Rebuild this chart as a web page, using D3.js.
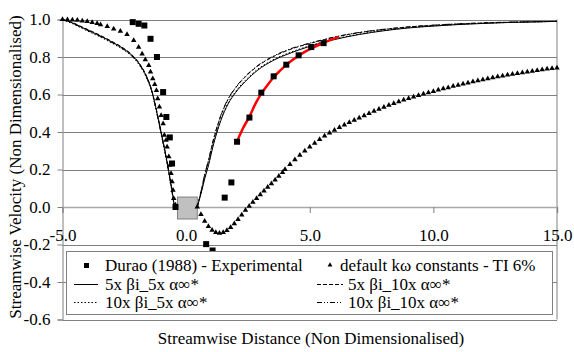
<!DOCTYPE html>
<html><head><meta charset="utf-8">
<script src="https://cdn.jsdelivr.net/npm/d3@7"></script>
<style>
html,body{margin:0;padding:0;background:#fff;}
svg{display:block;}
svg text{font-family:"Liberation Serif","Times New Roman","DejaVu Serif",serif !important;}
</style></head>
<body><svg id="c" width="574" height="352"></svg>
<script>
// ---- data ----
const xTicks = [-5, 0, 5, 10, 15];
const xTickLabels = ["-5.0", "0.0", "5.0", "10.0", "15.0"];
const yTicks = [-0.6, -0.4, -0.2, 0.0, 0.2, 0.4, 0.6, 0.8, 1.0];
const yTickLabels = ["-0.6", "-0.4", "-0.2", "0.0", "0.2", "0.4", "0.6", "0.8", "1.0"];

const seriesNames = ["Durao (1988) - Experimental", "default k\u03c9 constants - TI 6%",
  "5x \u03b2i_5x \u03b1\u221e*", "5x \u03b2i_10x \u03b1\u221e*",
  "10x \u03b2i_5x \u03b1\u221e*", "10x \u03b2i_10x \u03b1\u221e*"];

// Durao (1988) experimental points
const duraoX = [-2.16, -1.92, -1.69, -1.44, -1.18, -0.93, -0.80, -0.66, -0.57, -0.43,
  0.81, 1.07, 1.56, 1.83, 2.06, 2.56, 3.04, 3.54, 4.05, 4.55, 5.06, 5.56];
const duraoY = [0.986, 0.977, 0.968, 0.897, 0.800, 0.613, 0.480, 0.371, 0.232, 0.000,
  -0.198, -0.232, 0.050, 0.131, 0.348, 0.477, 0.610, 0.697, 0.759, 0.809, 0.853, 0.874];

// red fit through downstream experimental data
const fitX = [2.06, 2.30, 2.56, 2.80, 3.04, 3.30, 3.54, 3.80, 4.05, 4.30, 4.55, 5.06, 5.56, 6.17];
const fitY = [0.350, 0.420, 0.482, 0.550, 0.605, 0.652, 0.692, 0.727, 0.758, 0.784, 0.807, 0.846, 0.876, 0.907];

// default k-omega constants (triangles)
const kwX = [-5.0, -4.8, -4.6, -4.4, -4.2, -4.0, -3.8, -3.6, -3.46, -3.19, -2.93, -2.66, -2.39, -2.12,
  -1.92, -1.78, -1.65, -1.51, -1.44, -1.35, -1.27, -1.20, -1.15, -1.08, -1.01, -0.93, -0.88, -0.81,
  -0.77, -0.70, -0.66, -0.61, -0.57, -0.53, -0.50, -0.43,
  0.45, 0.60, 0.75, 0.90, 1.05, 1.20, 1.35, 1.50, 1.65, 1.80, 1.95, 2.10, 2.25, 2.40, 2.55, 2.70,
  2.85, 3.00, 3.15, 3.30, 3.45, 3.60, 3.75, 3.90,
  4.0, 4.2, 4.4, 4.6, 4.8, 5.0, 5.2, 5.4, 5.6, 5.8, 6.0, 6.2, 6.4, 6.6, 6.8, 7.0, 7.2, 7.4, 7.6, 7.8,
  8.0, 8.2, 8.4, 8.6, 8.8, 9.0, 9.2, 9.4, 9.6, 9.8, 10.0, 10.2, 10.4, 10.6, 10.8, 11.0, 11.2, 11.4,
  11.6, 11.8, 12.0, 12.2, 12.4, 12.6, 12.8, 13.0, 13.2, 13.4, 13.6, 13.8, 14.0, 14.2, 14.4, 14.6, 14.8, 15.0];
const kwY = [1.000, 0.999, 0.998, 0.996, 0.993, 0.990, 0.985, 0.979, 0.973, 0.963, 0.950, 0.938, 0.920, 0.888,
  0.853, 0.817, 0.786, 0.755, 0.720, 0.684, 0.654, 0.622, 0.578, 0.534, 0.489, 0.445, 0.383, 0.356,
  0.321, 0.268, 0.223, 0.179, 0.135, 0.090, 0.046, 0.011,
  0.000, -0.040, -0.075, -0.104, -0.124, -0.136, -0.140, -0.136, -0.125, -0.109, -0.089, -0.066, -0.042, -0.017, 0.005, 0.026,
  0.046, 0.066, 0.086, 0.106, 0.125, 0.145, 0.164, 0.184,
  0.200, 0.227, 0.253, 0.277, 0.299, 0.320, 0.341, 0.361, 0.379, 0.395, 0.410, 0.424, 0.438, 0.451, 0.463, 0.475, 0.487, 0.499, 0.511, 0.522,
  0.533, 0.543, 0.552, 0.562, 0.571, 0.579, 0.587, 0.595, 0.603, 0.610, 0.617, 0.624, 0.631, 0.637, 0.644, 0.650, 0.656, 0.662,
  0.668, 0.674, 0.679, 0.684, 0.690, 0.695, 0.699, 0.704, 0.708, 0.713, 0.717, 0.721, 0.725, 0.729, 0.732, 0.736, 0.739, 0.742];

// model variants (null = gap across the body)
const lineX = [-5.0, -4.6, -4.2, -3.8, -3.4, -3.0, -2.6, -2.2, -1.9, -1.6, -1.4, -1.2, -1.0, -0.8, -0.6, -0.47, 0,
  0.45, 0.6, 0.75, 0.9, 1.1, 1.4, 1.7, 2.0, 2.4, 2.9, 3.5, 4.2, 5.0, 6.0, 7.0, 8.0, 9.0, 10, 11, 12, 13, 14, 15];
const b5a5Y = [1.000, 0.982, 0.957, 0.933, 0.908, 0.880, 0.850, 0.810, 0.765, 0.695, 0.625, 0.515, 0.390, 0.260, 0.110, 0.000, null,
  0.000, 0.070, 0.150, 0.220, 0.330, 0.460, 0.550, 0.610, 0.670, 0.730, 0.780, 0.820, 0.857, 0.893, 0.920, 0.940, 0.955, 0.965, 0.973, 0.979, 0.984, 0.987, 0.990];
const b10a5Y = [1.000, 0.978, 0.952, 0.927, 0.902, 0.874, 0.844, 0.804, 0.758, 0.688, 0.618, 0.508, 0.383, 0.253, 0.104, -0.008, null,
  0.000, 0.075, 0.155, 0.226, 0.336, 0.466, 0.556, 0.616, 0.676, 0.735, 0.784, 0.824, 0.860, 0.896, 0.922, 0.942, 0.956, 0.966, 0.974, 0.980, 0.984, 0.987, 0.990];
const b5a10Y = [1.000, 0.984, 0.960, 0.936, 0.911, 0.883, 0.853, 0.813, 0.768, 0.698, 0.628, 0.518, 0.393, 0.263, 0.113, 0.003, null,
  0.000, 0.080, 0.170, 0.245, 0.355, 0.485, 0.575, 0.635, 0.695, 0.752, 0.800, 0.840, 0.872, 0.905, 0.930, 0.947, 0.960, 0.969, 0.976, 0.981, 0.985, 0.988, 0.990];
const b10a10Y = [1.000, 0.980, 0.955, 0.930, 0.905, 0.877, 0.847, 0.807, 0.761, 0.691, 0.621, 0.511, 0.386, 0.256, 0.107, -0.005, null,
  0.000, 0.083, 0.173, 0.248, 0.358, 0.488, 0.578, 0.638, 0.698, 0.755, 0.803, 0.843, 0.874, 0.907, 0.931, 0.948, 0.961, 0.970, 0.977, 0.982, 0.986, 0.988, 0.990];

// body (grey square) extent in data units
const bodyX = [-0.35, 0.45];
const bodyY = [-0.064, 0.053];

// ---- drawing ----
const SERIF = "'Liberation Serif','Times New Roman','DejaVu Serif',serif";
const svg = d3.select("#c");
const x = d3.scaleLinear().domain([-5, 15]).range([62.5, 557]);
const y = d3.scaleLinear().domain([-0.6, 1.0]).range([319.5, 19.5]);
const FS = 17;

// gridlines
svg.append("g").selectAll("line").data(yTicks).join("line")
  .attr("x1", x(-5)).attr("x2", x(15))
  .attr("y1", d => Math.round(y(d)) + 0.5).attr("y2", d => Math.round(y(d)) + 0.5)
  .attr("stroke", "#808080").attr("stroke-width", 1);

// right border
svg.append("line").attr("x1", x(15)).attr("x2", x(15)).attr("y1", y(1)).attr("y2", y(-0.6))
  .attr("stroke", "#808080");

// y axis
const yAxis = svg.append("g").attr("transform", `translate(${x(-5)},0)`)
  .call(d3.axisLeft(y).tickValues(yTicks).tickFormat((d, i) => yTickLabels[i]).tickSize(5).tickPadding(7));
yAxis.attr("font-family", null).attr("font-size", null);
yAxis.select(".domain").attr("stroke", "#808080");
yAxis.selectAll(".tick line").attr("stroke", "#808080");
yAxis.selectAll("text").style("font-size", FS + "px").style("font-family", SERIF).attr("fill", "#000");

// x axis at y = 0
const xAxis = svg.append("g").attr("transform", `translate(0,${y(0)})`)
  .call(d3.axisBottom(x).tickValues(xTicks).tickFormat((d, i) => xTickLabels[i]).tickSize(6).tickPadding(16));
xAxis.attr("font-family", null).attr("font-size", null);
xAxis.select(".domain").attr("stroke", "#a8a8a8").attr("stroke-width", 1.5);
xAxis.selectAll(".tick line").attr("stroke", "#808080");
xAxis.selectAll("text").style("font-size", FS + "px").style("font-family", SERIF).attr("fill", "#000");

// body
svg.append("rect")
  .attr("x", x(bodyX[0])).attr("y", y(bodyY[1]))
  .attr("width", x(bodyX[1]) - x(bodyX[0])).attr("height", y(bodyY[0]) - y(bodyY[1]))
  .attr("fill", "#c0c0c0").attr("stroke", "#808080").attr("stroke-width", 1);

// model lines
const lineGen = d3.line().defined(d => d[1] !== null).x(d => x(d[0])).y(d => y(d[1])).curve(d3.curveMonotoneX);
const variants = [
  {ys: b5a5Y, dash: null},
  {ys: b10a5Y, dash: "1.5,2"},
  {ys: b5a10Y, dash: "4,2"},
  {ys: b10a10Y, dash: "5,2,1,2,1,2"}
];
variants.forEach(v => {
  svg.append("path").datum(lineX.map((xx, i) => [xx, v.ys[i]]))
    .attr("d", lineGen).attr("fill", "none").attr("stroke", "#000").attr("stroke-width", 1)
    .attr("stroke-dasharray", v.dash);
});

// triangles
const tri = d3.symbol().type(d3.symbolTriangle).size(13);
svg.append("g").selectAll("path").data(kwX.map((xx, i) => [xx, kwY[i]])).join("path")
  .attr("d", tri).attr("transform", d => `translate(${x(d[0])},${y(d[1])})`).attr("fill", "#000");

// red fit
svg.append("path").datum(fitX.map((xx, i) => [xx, fitY[i]]))
  .attr("d", d3.line().x(d => x(d[0])).y(d => y(d[1])).curve(d3.curveMonotoneX))
  .attr("fill", "none").attr("stroke", "#ff0000").attr("stroke-width", 2.5);

// experimental squares
svg.append("g").selectAll("rect").data(duraoX.map((xx, i) => [xx, duraoY[i]])).join("rect")
  .attr("x", d => x(d[0]) - 3).attr("y", d => y(d[1]) - 3).attr("width", 6).attr("height", 6).attr("fill", "#000");

// legend
const lg = svg.append("g");
lg.append("rect").attr("x", 66.5).attr("y", 251.5).attr("width", 486).attr("height", 63)
  .attr("fill", "#fff").attr("stroke", "#808080");
const rows = [271, 290, 308];
// col 1
lg.append("rect").attr("x", 84).attr("y", rows[0] - 8).attr("width", 5).attr("height", 5).attr("fill", "#000");
lg.append("line").attr("x1", 74).attr("x2", 98).attr("y1", rows[1] - 5.5).attr("y2", rows[1] - 5.5).attr("stroke", "#000");
lg.append("line").attr("x1", 74).attr("x2", 98).attr("y1", rows[2] - 5.5).attr("y2", rows[2] - 5.5).attr("stroke", "#000").attr("stroke-dasharray", "1.5,2");
// col 2
lg.append("path").attr("d", d3.symbol().type(d3.symbolTriangle).size(10)).attr("transform", `translate(330,${rows[0] - 6})`).attr("fill", "#000");
lg.append("line").attr("x1", 317).attr("x2", 343).attr("y1", rows[1] - 5.5).attr("y2", rows[1] - 5.5).attr("stroke", "#000").attr("stroke-dasharray", "4,2");
lg.append("line").attr("x1", 317).attr("x2", 343).attr("y1", rows[2] - 5.5).attr("y2", rows[2] - 5.5).attr("stroke", "#000").attr("stroke-dasharray", "5,2,1,2,1,2");
const lt = [
  {t: seriesNames[0], x: 105, y: rows[0]},
  {t: seriesNames[2], x: 105, y: rows[1]},
  {t: seriesNames[4], x: 105, y: rows[2]},
  {t: seriesNames[1], x: 340, y: rows[0]},
  {t: seriesNames[3], x: 348, y: rows[1]},
  {t: seriesNames[5], x: 348, y: rows[2]}
];
lg.selectAll("text").data(lt).join("text").attr("x", d => d.x).attr("y", d => d.y)
  .style("font-size", FS + "px").style("font-family", SERIF).text(d => d.t);

// axis titles
svg.append("text").attr("x", 311).attr("y", 344).attr("text-anchor", "middle")
  .style("font-size", FS + "px").style("font-family", SERIF)
  .text("Streamwise Distance (Non Dimensionalised)");
svg.append("text").attr("transform", "translate(21,167) rotate(-90)").attr("text-anchor", "middle")
  .style("font-size", FS + "px").style("font-family", SERIF)
  .text("Streamwise Velocity (Non Dimensionalised)");
</script></body></html>
